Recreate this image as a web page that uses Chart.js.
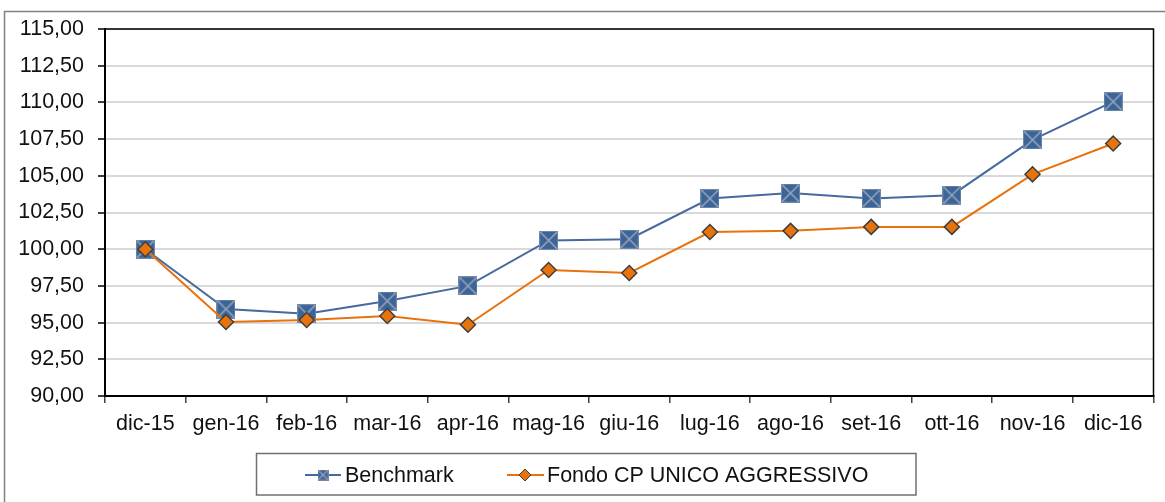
<!DOCTYPE html>
<html>
<head>
<meta charset="utf-8">
<script src="https://cdn.jsdelivr.net/npm/chart.js@4/dist/chart.umd.min.js"></script>
<style>
  html, body { margin: 0; padding: 0; background: #fff; }
  #wrap { width: 1165px; height: 502px; position: relative; }
</style>
</head>
<body>
<div id="wrap"><canvas id="c" width="1165" height="502"></canvas></div>
<script>
const categories = ["dic-15","gen-16","feb-16","mar-16","apr-16","mag-16","giu-16","lug-16","ago-16","set-16","ott-16","nov-16","dic-16"];
const benchmark = [100.00, 95.92, 95.60, 96.47, 97.50, 100.60, 100.68, 103.45, 103.82, 103.45, 103.68, 107.45, 110.05];
const fondo = [100.00, 95.04, 95.18, 95.45, 94.85, 98.58, 98.38, 101.17, 101.25, 101.52, 101.52, 105.10, 107.20];
const seriesNames = ["Benchmark", "Fondo CP UNICO AGGRESSIVO"];
const yMin = 90, yMax = 115, yStep = 2.5;

const FONT = "'Liberation Sans', Arial, sans-serif";
const FS = 21.5;
const BLUE_LINE = '#46699E';
const BLUE_FILL = '#3B6499';
const ORANGE = '#E8720C';
const DIAMOND_BORDER = '#3F3F3F';

function makeSquareMarker(size) {
  const cv = document.createElement('canvas');
  cv.width = size; cv.height = size;
  const c = cv.getContext('2d');
  c.fillStyle = BLUE_FILL;
  c.fillRect(0, 0, size, size);
  c.strokeStyle = 'rgba(160,170,185,0.95)';
  c.lineWidth = Math.max(1.2, size / 12);
  c.beginPath();
  c.moveTo(1, 1); c.lineTo(size - 1, size - 1);
  c.moveTo(size - 1, 1); c.lineTo(1, size - 1);
  c.stroke();
  c.strokeStyle = 'rgba(120,140,170,0.9)';
  c.lineWidth = 1;
  c.strokeRect(0.5, 0.5, size - 1, size - 1);
  return cv;
}
const squareMarker = makeSquareMarker(19);
const squareLegend = makeSquareMarker(11);

const framePlugin = {
  id: 'frame',
  beforeDraw(chart) {
    const ctx = chart.ctx;
    ctx.save();
    ctx.fillStyle = '#fff';
    ctx.fillRect(0, 0, chart.width, chart.height);
    ctx.strokeStyle = '#808080';
    ctx.lineWidth = 1.5;
    ctx.beginPath();
    ctx.moveTo(4.5, chart.height);
    ctx.lineTo(4.5, 11.5);
    ctx.lineTo(chart.width, 11.5);
    ctx.stroke();
    ctx.restore();
  },
  afterDatasetsDraw(chart) {
    const a = chart.chartArea;
    const ctx = chart.ctx;
    ctx.save();
    ctx.strokeStyle = '#000';
    ctx.lineWidth = 1.5;
    ctx.strokeRect(a.left, a.top, a.right - a.left, a.bottom - a.top);
    ctx.restore();
  },
  afterDraw(chart) {
    const ctx = chart.ctx;
    ctx.save();
    ctx.strokeStyle = '#707070';
    ctx.lineWidth = 1.5;
    ctx.strokeRect(256.5, 453.5, 659.5, 41.5);
    const y = 475;
    ctx.strokeStyle = BLUE_LINE;
    ctx.lineWidth = 2;
    ctx.beginPath(); ctx.moveTo(305, y); ctx.lineTo(341, y); ctx.stroke();
    ctx.drawImage(squareLegend, 323 - 5.5, y - 5.5);
    ctx.fillStyle = '#111';
    ctx.font = FS + 'px ' + FONT;
    ctx.textBaseline = 'middle';
    ctx.textAlign = 'left';
    ctx.fillText(seriesNames[0], 345, y + 1);
    ctx.strokeStyle = ORANGE;
    ctx.beginPath(); ctx.moveTo(507, y); ctx.lineTo(544, y); ctx.stroke();
    ctx.fillStyle = ORANGE;
    ctx.strokeStyle = DIAMOND_BORDER;
    ctx.lineWidth = 1;
    ctx.beginPath();
    ctx.moveTo(525, y - 6); ctx.lineTo(531, y); ctx.lineTo(525, y + 6); ctx.lineTo(519, y); ctx.closePath();
    ctx.fill(); ctx.stroke();
    ctx.fillStyle = '#111';
    ctx.fillText(seriesNames[1], 547, y + 1);
    ctx.restore();
  }
};

new Chart(document.getElementById('c'), {
  type: 'line',
  data: {
    labels: categories,
    datasets: [
      {
        label: seriesNames[0],
        data: benchmark,
        order: 1,
        borderColor: BLUE_LINE,
        backgroundColor: BLUE_FILL,
        borderWidth: 2,
        pointStyle: squareMarker,
        pointRadius: 9.5,
        pointHoverRadius: 9.5,
        tension: 0,
        fill: false
      },
      {
        label: seriesNames[1],
        data: fondo,
        order: 0,
        borderColor: ORANGE,
        backgroundColor: ORANGE,
        borderWidth: 2,
        pointStyle: 'rectRot',
        pointRadius: 7.5,
        pointHoverRadius: 7.5,
        pointBackgroundColor: ORANGE,
        pointBorderColor: DIAMOND_BORDER,
        pointBorderWidth: 1.5,
        tension: 0,
        fill: false
      }
    ]
  },
  options: {
    responsive: false,
    animation: false,
    devicePixelRatio: 1,
    layout: { padding: { top: 29, right: 7, left: 0, bottom: 0 } },
    plugins: {
      legend: { display: false },
      title: { display: false },
      tooltip: { enabled: false }
    },
    scales: {
      x: {
        type: 'category',
        offset: true,
        grid: {
          display: true,
          offset: true,
          drawOnChartArea: false,
          drawTicks: true,
          tickLength: 7,
          tickColor: '#404040',
          lineWidth: 1.5
        },
        border: { display: true, color: '#000', width: 2 },
        ticks: {
          color: '#111',
          font: { family: FONT, size: FS },
          padding: 8,
          maxRotation: 0,
          autoSkip: false
        },
        afterFit(scale) { scale.height = 106; }
      },
      y: {
        min: yMin,
        max: yMax,
        grid: {
          color: '#D9D9D9',
          lineWidth: 2,
          tickLength: 7,
          tickColor: '#404040',
          drawTicks: true
        },
        border: { display: true, color: '#000', width: 2 },
        ticks: {
          stepSize: yStep,
          color: '#111',
          font: { family: FONT, size: FS },
          padding: 14,
          callback: (v) => Number(v).toFixed(2).replace('.', ',')
        },
        afterFit(scale) { scale.width = 105; }
      }
    }
  },
  plugins: [framePlugin]
});
</script>
</body>
</html>
